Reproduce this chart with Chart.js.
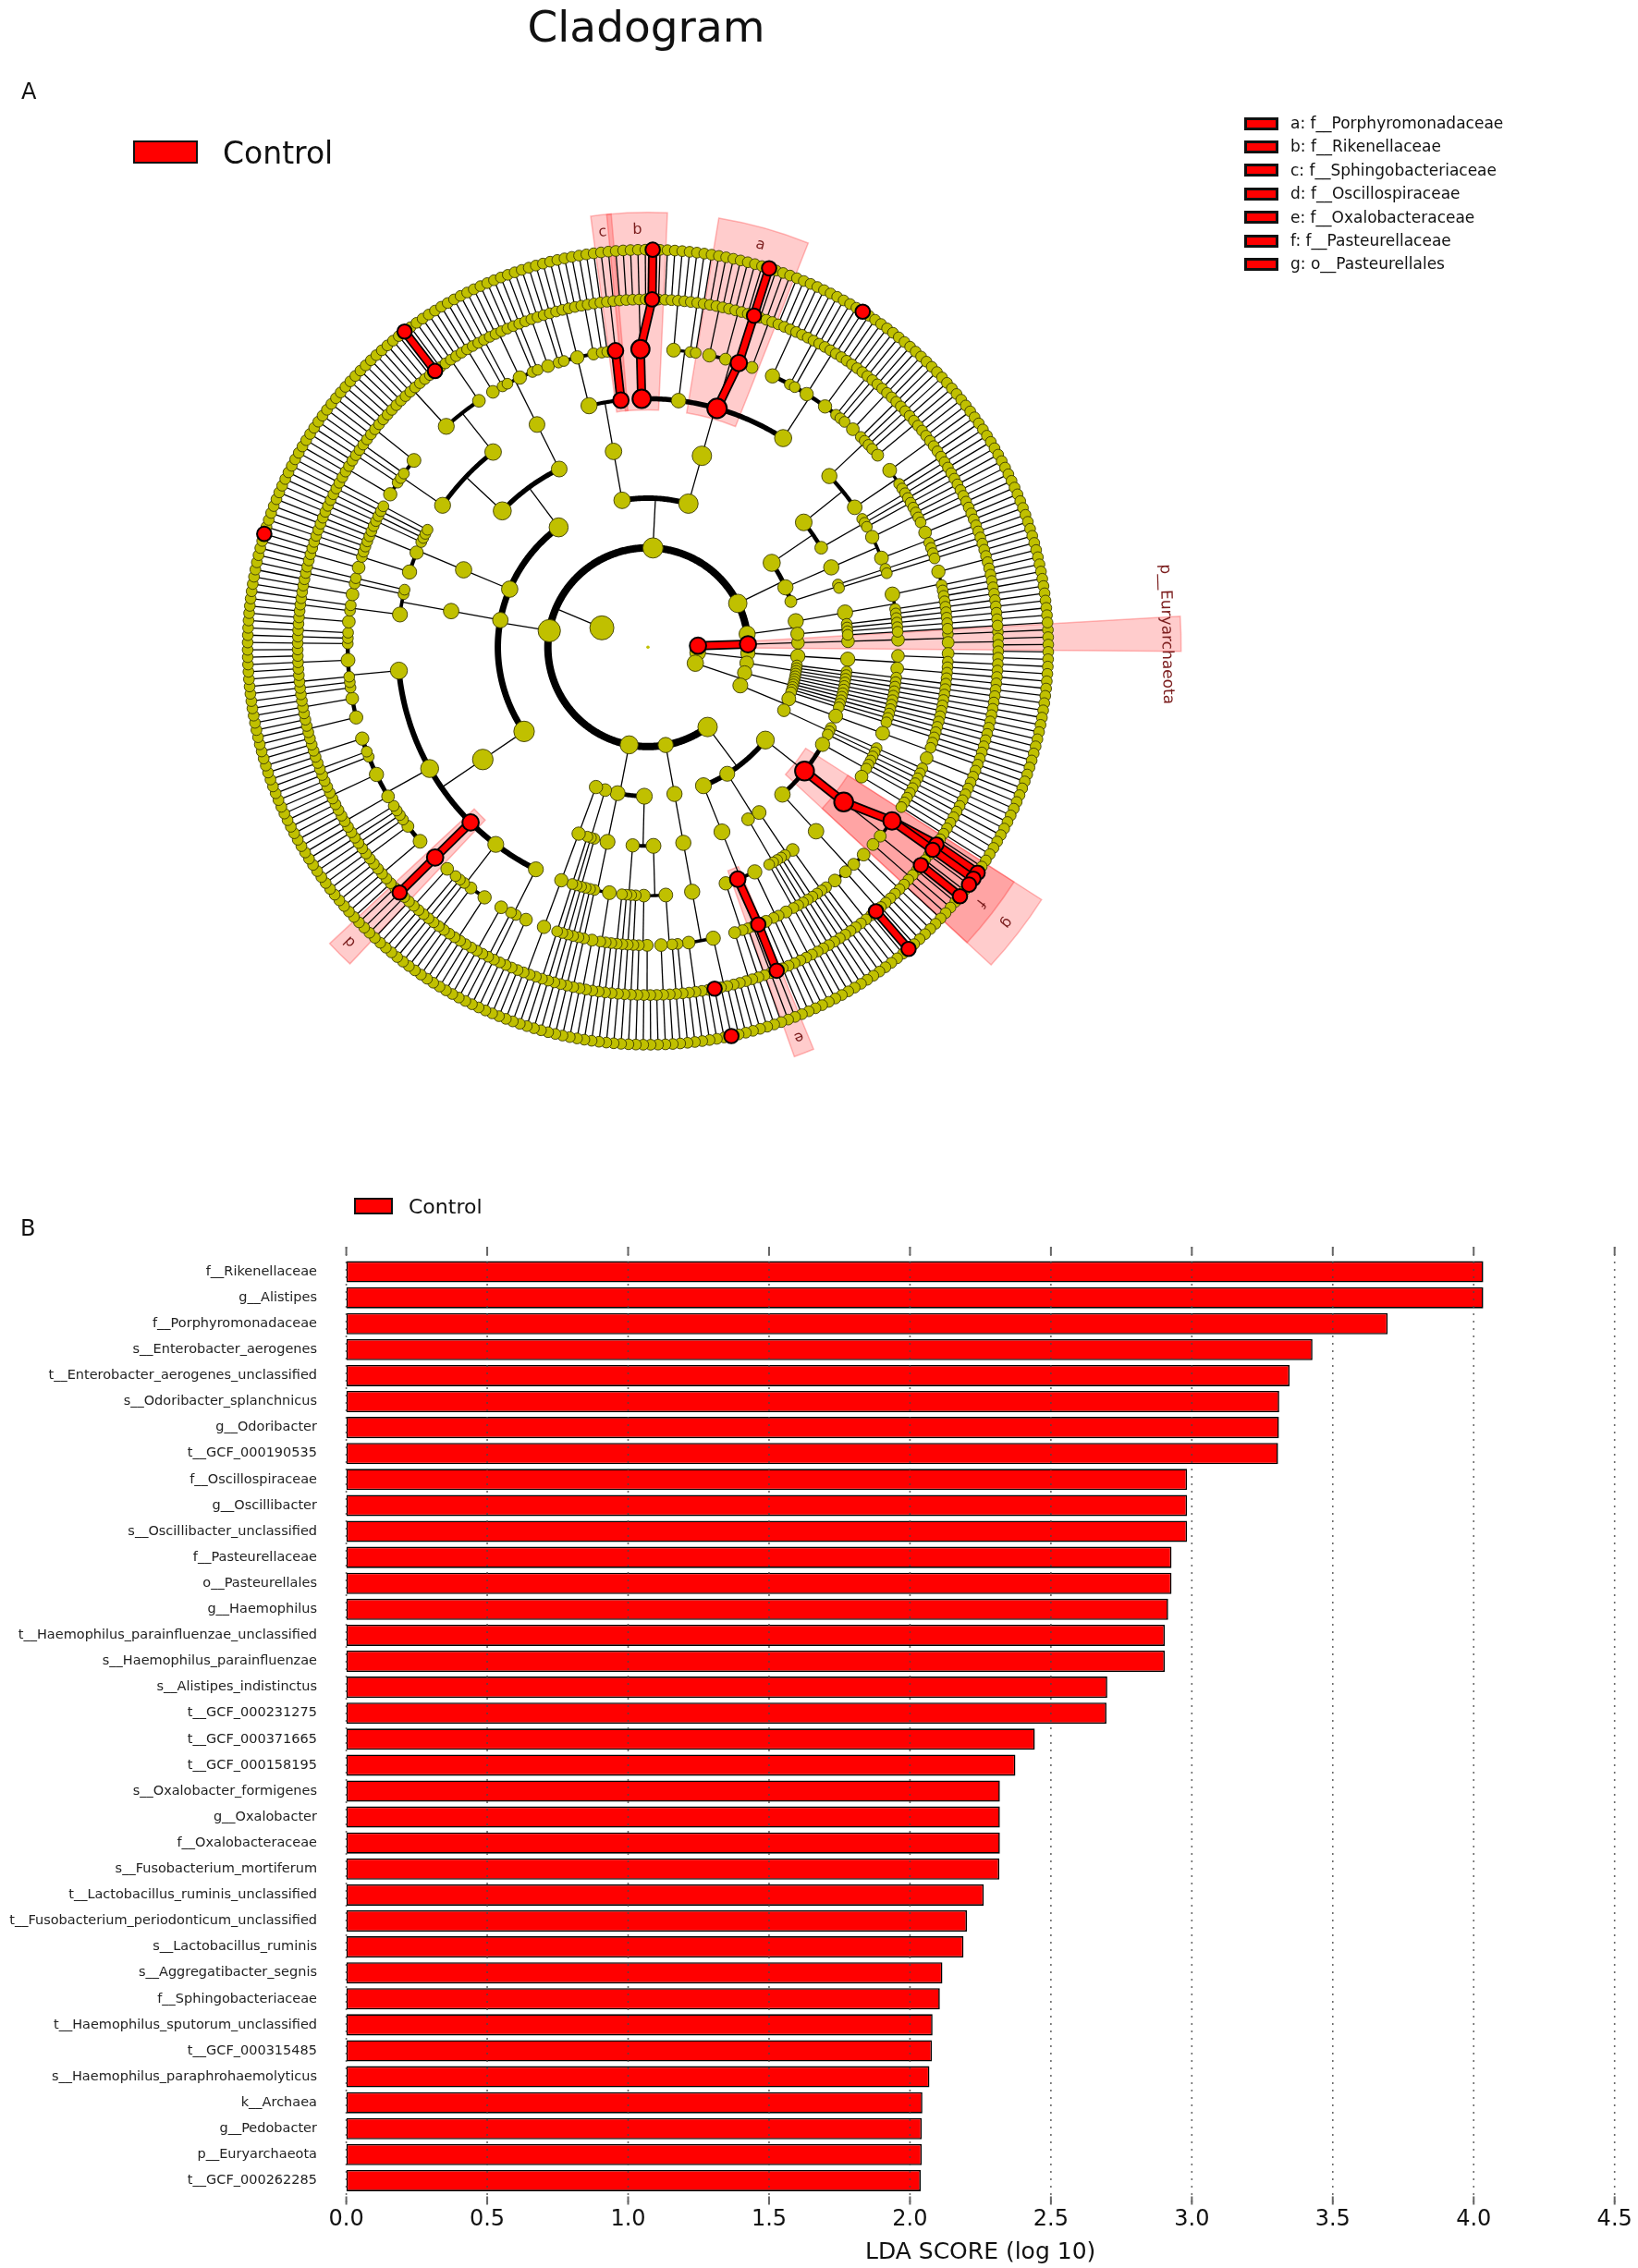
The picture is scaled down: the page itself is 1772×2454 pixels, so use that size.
<!DOCTYPE html>
<html lang="en">
<head>
<meta charset="UTF-8">
<title>Cladogram - LDA scores</title>
<script src="https://cdn.jsdelivr.net/npm/chart.js"></script>
<style>
  html, body { margin: 0; padding: 0; background: #fff; }
  body { position: relative; width: 1772px; height: 2454px; overflow: hidden; font-family: 'DejaVu Sans', sans-serif; color: #111; }
  .panel { position: absolute; left: 0; width: 1772px; }
  .txt { position: absolute; line-height: 1; white-space: nowrap; z-index: 2; }
  .swatch { position: absolute; box-sizing: border-box; background: #ff0000; border: 2.5px solid #111; z-index: 2; }
</style>
</head>
<body>
  <div class="panel" style="top:0;height:1250px"><canvas id="cladogramChart"></canvas></div>
  <div class="panel" style="top:1250px;height:1204px"><canvas id="ldaChart"></canvas></div>

  <div class="txt" style="left:0;width:1398px;text-align:center;top:5px;font-size:47px">Cladogram</div>
  <div class="txt" style="left:23px;top:87px;font-size:24px">A</div>
  <div class="swatch" style="left:144px;top:152px;width:70px;height:25px"></div>
  <div class="txt" id="groupTop" style="left:241px;top:149px;font-size:33px"></div>
  <div id="cladeLegend"></div>

  <div class="txt" style="left:22px;top:1317px;font-size:24px">B</div>
  <div class="swatch" style="left:383px;top:1296px;width:42px;height:18px"></div>
  <div class="txt" id="groupBottom" style="left:442px;top:1295px;font-size:22px"></div>

<script>
// ---------- panel B: LDA scores ----------
const groupName = 'Control';
const taxa = [
  'f__Rikenellaceae', 'g__Alistipes', 'f__Porphyromonadaceae', 's__Enterobacter_aerogenes',
  't__Enterobacter_aerogenes_unclassified', 's__Odoribacter_splanchnicus', 'g__Odoribacter', 't__GCF_000190535',
  'f__Oscillospiraceae', 'g__Oscillibacter', 's__Oscillibacter_unclassified', 'f__Pasteurellaceae',
  'o__Pasteurellales', 'g__Haemophilus', 't__Haemophilus_parainfluenzae_unclassified', 's__Haemophilus_parainfluenzae',
  's__Alistipes_indistinctus', 't__GCF_000231275', 't__GCF_000371665', 't__GCF_000158195',
  's__Oxalobacter_formigenes', 'g__Oxalobacter', 'f__Oxalobacteraceae', 's__Fusobacterium_mortiferum',
  't__Lactobacillus_ruminis_unclassified', 't__Fusobacterium_periodonticum_unclassified', 's__Lactobacillus_ruminis', 's__Aggregatibacter_segnis',
  'f__Sphingobacteriaceae', 't__Haemophilus_sputorum_unclassified', 't__GCF_000315485', 's__Haemophilus_paraphrohaemolyticus',
  'k__Archaea', 'g__Pedobacter', 'p__Euryarchaeota', 't__GCF_000262285'
];
const ldaScores = [
  4.034, 4.034, 3.695, 3.428,
  3.347, 3.310, 3.309, 3.306,
  2.983, 2.983, 2.983, 2.928,
  2.928, 2.916, 2.904, 2.904,
  2.700, 2.697, 2.443, 2.374,
  2.319, 2.319, 2.319, 2.317,
  2.262, 2.202, 2.190, 2.115,
  2.106, 2.080, 2.078, 2.069,
  2.044, 2.042, 2.042, 2.038
];
const ldaTickValues = [0, 0.5, 1, 1.5, 2, 2.5, 3, 3.5, 4, 4.5];
const ldaTickLabels = ['0.0', '0.5', '1.0', '1.5', '2.0', '2.5', '3.0', '3.5', '4.0', '4.5'];

// ---------- panel A: taxonomy tree ----------
// a node is [name, ...children]; a number n means n unnamed children
// that run straight down to strain level
const archaea = ['k__Archaea', ['p__Euryarchaeota', ['', ['', ['', ['', 1], ['', 2]]]]]];
const eukaryota = ['k__Eukaryota', ['', ['', ['', ['', ['', 2], ['', 1]], ['', 3]]]], ['', 5]];
const viruses = ['k__Viruses', ['', 6], ['', ['', ['', ['', 2, ['', 3]]]], ['', 3]]];

const proteobacteria = ['p__Proteobacteria',
  ['c__Gammaproteobacteria',
    ['', 3, ['', 3]],
    ['o__Pasteurellales',
      ['f__Pasteurellaceae',
        ['g__Haemophilus', 1,
          ['s__Haemophilus_parainfluenzae', ['t__Haemophilus_parainfluenzae_unclassified']],
          ['s__Haemophilus_paraphrohaemolyticus', ['t__GCF_000315485']],
          ['s__Haemophilus_sputorum', ['t__Haemophilus_sputorum_unclassified']],
          1],
        ['g__Aggregatibacter', ['s__Aggregatibacter_segnis', ['t__GCF_000262285']], 1],
        ['', 2]]],
    ['o__Enterobacterales',
      ['f__Enterobacteriaceae', ['', 3], ['', 2],
        ['g__Enterobacter', 1, ['s__Enterobacter_aerogenes', ['t__Enterobacter_aerogenes_unclassified']]],
        ['', 3]]]],
  ['c__Alphaproteobacteria', ['', ['', 3], 2], ['', 3]],
  ['c__Betaproteobacteria',
    ['o__Burkholderiales',
      ['', ['', 2], 2, ['', 2]],
      ['f__Oxalobacteraceae', ['g__Oxalobacter', ['s__Oxalobacter_formigenes', 1]], 1],
      ['', 2, ['', 2]]]]];

const fusobacteria = ['p__Fusobacteria', ['', ['', ['',
  ['g__Fusobacterium', 3,
    ['s__Fusobacterium_periodonticum', ['t__Fusobacterium_periodonticum_unclassified']],
    ['s__Fusobacterium_mortiferum', 1], 1],
  ['', 3]]]]];

const tenericutes = ['p__Tenericutes',
  ['', ['', ['', 2, ['', 3]], ['', ['', 2], 1]], ['', 4]],
  ['', ['', ['', 3, ['', 2]], 3]],
  ['', 3],
  ['', ['', ['', ['', 4]]]]];

const firmicutes = ['p__Firmicutes',
  ['c__Clostridia',
    ['o__Clostridiales',
      ['', ['', 3], 2, ['', 3]],
      ['', ['', 4], ['', 2], 3, ['', 3]],
      ['f__Oscillospiraceae', ['g__Oscillibacter', 1, ['s__Oscillibacter_unclassified', 1], 1]],
      ['', ['', 5], ['', 2], 4, ['', 3], ['', 6], 2, ['', 4]],
      ['', ['', 4], ['', 3], 3, ['', 5], 3]]],
  ['c__Erysipelotrichia', ['', ['', ['', 3], 2, ['', 3]], 2]],
  ['c__Negativicutes', ['', ['', ['', 2, ['', ['t__GCF_000158195']]], 3], ['', 4], 4]],
  ['c__Bacilli',
    ['o__Lactobacillales',
      ['', ['', 4], 3, ['', 5]],
      ['f__Lactobacillaceae',
        ['g__Lactobacillus', 10, ['s__Lactobacillus_ruminis', ['t__Lactobacillus_ruminis_unclassified']], 1],
        ['', 3]]],
    ['o__Bacillales', ['', ['', 3], 2, ['', 4], 2]]]];

const bacteroidetes = ['p__Bacteroidetes',
  ['c__Sphingobacteriia',
    ['o__Sphingobacteriales',
      ['', ['', 3], 2, ['', 4], ['', 2], 2],
      ['f__Sphingobacteriaceae', ['g__Pedobacter', 2]]]],
  ['c__Bacteroidia',
    ['o__Bacteroidales',
      ['f__Rikenellaceae', ['g__Alistipes', 5, ['s__Alistipes_indistinctus', ['t__GCF_000231275']], 1]],
      ['f__Bacteroidaceae', ['', 5], 2],
      ['f__Porphyromonadaceae', ['', 4], ['', 2],
        ['g__Odoribacter', 1, ['s__Odoribacter_splanchnicus', ['t__GCF_000190535']], 1],
        ['', 2]],
      ['f__Prevotellaceae', ['', 6], 2, ['', 2, ['', ['t__GCF_000371665']], 1], ['', 4], 3]]]];

const actinobacteria = ['p__Actinobacteria',
  ['', ['', ['', ['', 3], 4, ['', 2]], ['', ['', 5], 2]], ['', 3]],
  ['', ['', ['', 4], ['', ['', 3], 2]]],
  ['', 2]];
const verrucomicrobia = ['p__Verrucomicrobia', ['', ['', ['', ['', 4], 3], 2]], ['', 4]];

const bacteria = ['k__Bacteria', proteobacteria, fusobacteria, tenericutes, firmicutes,
  bacteroidetes, actinobacteria, verrucomicrobia];
const kingdoms = [archaea, eukaryota, viruses, bacteria];

const cladeLetters = ['a', 'b', 'c', 'd', 'e', 'f', 'g'];
const cladeNames = ['f__Porphyromonadaceae', 'f__Rikenellaceae', 'f__Sphingobacteriaceae',
  'f__Oscillospiraceae', 'f__Oxalobacteraceae', 'f__Pasteurellaceae', 'o__Pasteurellales'];
const namedClades = ['p__Euryarchaeota'];

// ---------- layout ----------
const RING = 55;          // px between taxonomic levels
const START_ANGLE = -2.5; // degrees, clockwise from 3 o'clock
const biomarkers = new Set(taxa);

function chain(level) {
  return { name: '', level, kids: level < 8 ? [chain(level + 1)] : [] };
}
function grow(spec, level) {
  const node = { name: spec[0], level, kids: [] };
  spec.slice(1).forEach(k => {
    if (typeof k === 'number') {
      for (let i = 0; i < k; i++) node.kids.push(chain(level + 1));
    } else {
      node.kids.push(grow(k, level + 1));
    }
  });
  return node;
}
const root = { name: '', level: 0, kids: kingdoms.map(k => grow(k, 1)) };

const leafList = [];
(function collect(n) { if (!n.kids.length) leafList.push(n); else n.kids.forEach(collect); })(root);
const step = 360 / leafList.length;
leafList.forEach((l, i) => { l.angle = START_ANGLE + i * step; });

const nodes = [];
function place(n) {
  if (n.kids.length) {
    n.kids.forEach(place);
    const a = n.kids[0], b = n.kids[n.kids.length - 1];
    n.first = a.first; n.last = b.last;
    n.angle = (a.angle + b.angle) / 2;
    n.leaves = n.kids.reduce((s, k) => s + k.leaves, 0);
  } else {
    n.first = n.last = n.angle;
    n.leaves = 1;
  }
  n.r = RING * n.level;
  const t = n.angle * Math.PI / 180;
  n.x = n.r * Math.cos(t);
  n.y = n.r * Math.sin(t);
  n.red = biomarkers.has(n.name);
  n.size = Math.min(13, 4.8 + 1.5 * Math.log(1 + n.leaves)) + (n.red ? 2 : 0);
  if (n.level > 0) nodes.push(n);
}
place(root);

const yellowNodes = nodes.filter(n => !n.red);
const redNodes = nodes.filter(n => n.red);
const shaded = cladeNames.map((name, i) => ({ label: cladeLetters[i], size: 16, node: nodes.find(n => n.name === name) }))
  .concat(namedClades.map(name => ({ label: name, size: 17, node: nodes.find(n => n.name === name) })));

// ---------- text outside the charts ----------
document.getElementById('groupTop').textContent = groupName;
document.getElementById('groupBottom').textContent = groupName;
const legendBox = document.getElementById('cladeLegend');
cladeLetters.forEach((letter, i) => {
  const cy = 133.5 + 25.45 * i;
  const sw = document.createElement('div');
  sw.className = 'swatch';
  sw.style.cssText = `left:1346px;top:${cy - 7}px;width:37px;height:14px;border-width:3px`;
  legendBox.appendChild(sw);
  const tx = document.createElement('div');
  tx.className = 'txt';
  tx.style.cssText = `left:1396px;top:${cy - 8.8}px;font-size:17px`;
  tx.textContent = `${letter}: ${cladeNames[i]}`;
  legendBox.appendChild(tx);
});

Chart.defaults.font.family = "'DejaVu Sans', sans-serif";

// ---------- cladogram drawing ----------
const cladePlugin = {
  id: 'cladeDraw',
  beforeDatasetsDraw(chart) {
    const ctx = chart.ctx;
    const sx = chart.scales.x, sy = chart.scales.y;
    const px = (r, deg) => {
      const t = deg * Math.PI / 180;
      return [sx.getPixelForValue(r * Math.cos(t)), sy.getPixelForValue(r * Math.sin(t))];
    };
    const cx = sx.getPixelForValue(0), cy = sy.getPixelForValue(0);
    const unit = sx.getPixelForValue(1) - cx;
    ctx.save();

    // shaded clades
    shaded.forEach(s => {
      const n = s.node;
      const a1 = (n.first - step / 2 - 0.3) * Math.PI / 180;
      const a2 = (n.last + step / 2 + 0.3) * Math.PI / 180;
      const r1 = (n.r - 14) * unit;
      const r2 = (478 + 36 * (5 - n.level)) * unit;
      ctx.beginPath();
      ctx.arc(cx, cy, r2, a1, a2);
      ctx.arc(cx, cy, r1, a2, a1, true);
      ctx.closePath();
      ctx.fillStyle = 'rgba(255,0,0,0.2)';
      ctx.fill();
      ctx.strokeStyle = 'rgba(255,60,60,0.35)';
      ctx.lineWidth = 1.5;
      ctx.stroke();
      s.labelR = 478 + 36 * (5 - n.level) - 16;
    });
    shaded.forEach(s => {
      const mid = (s.node.first + s.node.last) / 2;
      ctx.save();
      ctx.translate(...px(s.labelR, mid));
      ctx.rotate((mid + 90) * Math.PI / 180);
      ctx.fillStyle = '#7b1d1d';
      ctx.font = `${s.size}px 'DejaVu Sans'`;
      ctx.textAlign = 'center';
      ctx.textBaseline = 'middle';
      ctx.fillText(s.label, 0, 0);
      ctx.restore();
    });

    // branches: radial stem out to the next ring, then an arc over the children
    ctx.strokeStyle = '#000';
    ctx.lineCap = 'butt';
    nodes.forEach(n => {
      if (!n.kids.length) return;
      const rc = n.r + RING;
      ctx.lineWidth = 1.3;
      ctx.beginPath();
      ctx.moveTo(...px(n.r, n.angle));
      ctx.lineTo(...px(rc, n.angle));
      ctx.stroke();
      if (n.kids.length > 1) {
        const a0 = n.kids[0].angle, a1 = n.kids[n.kids.length - 1].angle;
        const seg = Math.max(2, Math.ceil((a1 - a0) / 0.5));
        ctx.lineWidth = 0.8 + 1.25 * Math.log(n.leaves);
        ctx.beginPath();
        for (let i = 0; i <= seg; i++) {
          const p = px(rc, a0 + (a1 - a0) * i / seg);
          if (i) ctx.lineTo(...p); else ctx.moveTo(...p);
        }
        ctx.stroke();
      }
    });
    ctx.restore();
  },
  afterDatasetDraw(chart, args) {
    if (args.index !== 0) return;
    // red links between biomarker parents and biomarker children
    const ctx = chart.ctx;
    const sx = chart.scales.x, sy = chart.scales.y;
    ctx.save();
    ctx.lineCap = 'butt';
    redNodes.forEach(n => {
      n.kids.filter(k => k.red).forEach(k => {
        const p0 = [sx.getPixelForValue(n.x), sy.getPixelForValue(n.y)];
        const p1 = [sx.getPixelForValue(k.x), sy.getPixelForValue(k.y)];
        ctx.strokeStyle = '#000';
        ctx.lineWidth = 10;
        ctx.beginPath(); ctx.moveTo(...p0); ctx.lineTo(...p1); ctx.stroke();
        ctx.strokeStyle = '#ff0000';
        ctx.lineWidth = 6.5;
        ctx.beginPath(); ctx.moveTo(...p0); ctx.lineTo(...p1); ctx.stroke();
      });
    });
    ctx.restore();
  }
};

new Chart(document.getElementById('cladogramChart').getContext('2d'), {
  type: 'scatter',
  data: {
    datasets: [
      {
        data: yellowNodes.map(n => ({ x: n.x, y: n.y })),
        pointRadius: yellowNodes.map(n => n.size),
        pointBackgroundColor: 'rgb(192,192,0)',
        pointBorderColor: 'rgba(60,60,0,0.9)',
        pointBorderWidth: 1,
        order: 2
      },
      {
        data: redNodes.map(n => ({ x: n.x, y: n.y })),
        pointRadius: redNodes.map(n => n.size),
        pointBackgroundColor: '#ff0000',
        pointBorderColor: '#000',
        pointBorderWidth: 2,
        order: 1
      },
      {
        data: [{ x: 0, y: 0 }],
        pointRadius: 1.8,
        pointBackgroundColor: 'rgb(192,192,0)',
        pointBorderWidth: 0,
        order: 3
      }
    ]
  },
  options: {
    responsive: true,
    maintainAspectRatio: false,
    animation: false,
    events: [],
    layout: { padding: 0 },
    plugins: { legend: { display: false }, tooltip: { enabled: false } },
    scales: {
      x: { type: 'linear', display: false, min: -698, max: 1074 },
      y: { type: 'linear', display: false, reverse: true, min: -702, max: 548 }
    }
  },
  plugins: [cladePlugin]
});

// ---------- LDA bar chart ----------
const ldaGridPlugin = {
  id: 'ldaGrid',
  afterDatasetsDraw(chart) {
    const { ctx, chartArea: a } = chart;
    const x = chart.scales.x;
    ctx.save();
    ldaTickValues.forEach(v => {
      const p = x.getPixelForValue(v);
      ctx.strokeStyle = 'rgba(70,70,70,0.8)';
      ctx.lineWidth = 1.6;
      ctx.setLineDash([2, 6]);
      ctx.beginPath(); ctx.moveTo(p, a.top - 13); ctx.lineTo(p, a.bottom + 12); ctx.stroke();
      ctx.setLineDash([]);
      ctx.strokeStyle = '#666';
      ctx.lineWidth = 2;
      ctx.beginPath(); ctx.moveTo(p, a.top - 13); ctx.lineTo(p, a.top - 4); ctx.stroke();
      ctx.beginPath(); ctx.moveTo(p, a.bottom + 3); ctx.lineTo(p, a.bottom + 12); ctx.stroke();
    });
    ctx.restore();
  }
};

new Chart(document.getElementById('ldaChart').getContext('2d'), {
  type: 'bar',
  data: {
    labels: taxa,
    datasets: [{
      label: groupName,
      data: ldaScores,
      backgroundColor: '#ff0000',
      borderColor: '#000',
      borderWidth: 1.6,
      borderSkipped: false,
      barPercentage: 0.82,
      categoryPercentage: 1
    }]
  },
  options: {
    indexAxis: 'y',
    responsive: true,
    maintainAspectRatio: false,
    animation: false,
    events: [],
    layout: { padding: { top: 112, right: 25.3, bottom: 0, left: 0 } },
    plugins: { legend: { display: false }, tooltip: { enabled: false } },
    scales: {
      x: {
        type: 'linear',
        min: 0,
        max: 4.5,
        afterBuildTicks: s => { s.ticks = ldaTickValues.map(v => ({ value: v })); },
        afterFit: s => { s.height = 80.5; s.paddingLeft = 0; s.paddingRight = 0; },
        ticks: {
          callback: (v, i) => ldaTickLabels[i],
          font: { size: 24 },
          color: '#111',
          padding: 14,
          maxRotation: 0,
          autoSkip: false
        },
        grid: { display: false, drawTicks: false },
        border: { display: false },
        title: {
          display: true,
          text: 'LDA SCORE (log 10)',
          font: { size: 25 },
          color: '#111',
          padding: { top: 0, bottom: 2 }
        }
      },
      y: {
        afterFit: s => { s.width = 374.6; s.paddingTop = 0; s.paddingBottom = 0; },
        ticks: { font: { size: 14.5 }, color: '#222', padding: 31.6, autoSkip: false },
        grid: { display: false, drawTicks: false },
        border: { display: false }
      }
    }
  },
  plugins: [ldaGridPlugin]
});
</script>
</body>
</html>
